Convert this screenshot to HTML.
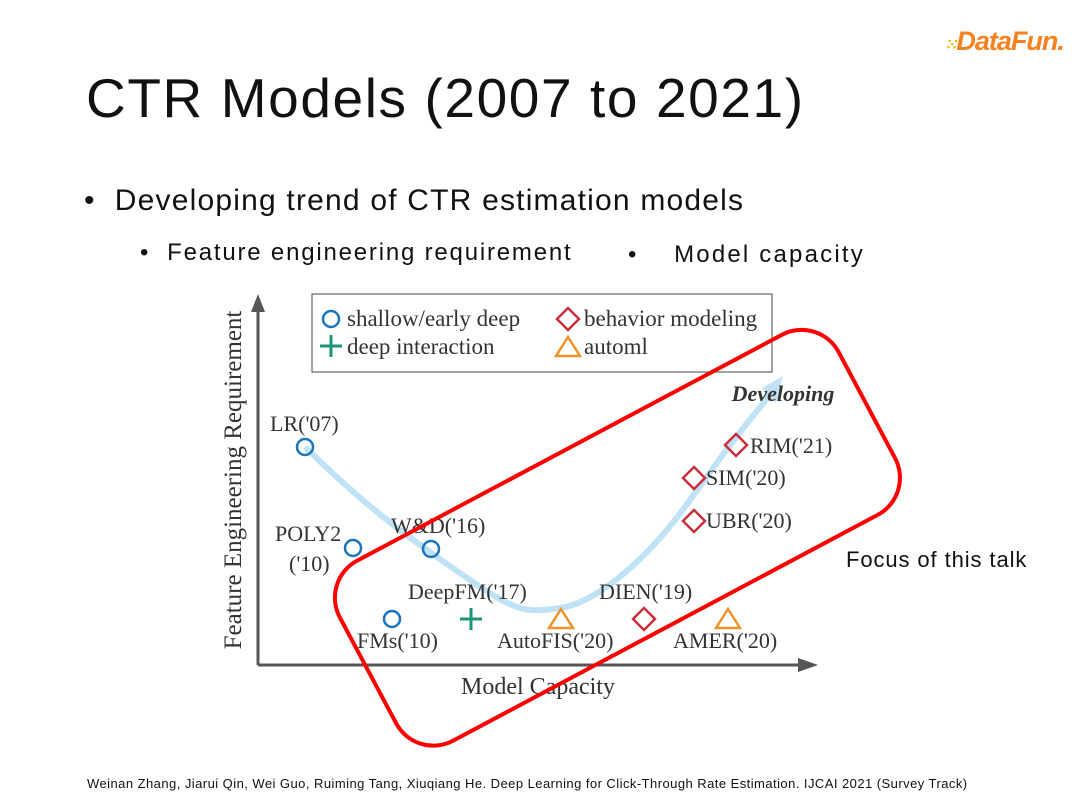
<!DOCTYPE html>
<html><head><meta charset="utf-8"><style>
body{margin:0;width:1080px;height:810px;background:#fff;overflow:hidden;position:relative;font-family:"Liberation Sans",sans-serif;}
.t{position:absolute;white-space:nowrap;color:#111;}
</style></head><body>
<div class="t" style="left:944px;top:26px;font-size:27px;font-style:italic;font-weight:bold;color:#f58220;letter-spacing:-1px"><span style="font-size:16px;color:#f7b500">⁙</span>DataFun.</div>
<div class="t" style="left:86px;top:66px;font-size:55px;letter-spacing:1.6px">CTR Models (2007 to 2021)</div>
<div class="t" style="left:84px;top:184px;font-size:30px;letter-spacing:1.2px">•&nbsp; Developing trend of CTR estimation models</div>
<div class="t" style="left:140px;top:239px;font-size:24px;letter-spacing:1.8px">•&nbsp; Feature engineering requirement</div>
<div class="t" style="left:628px;top:241px;font-size:24px;letter-spacing:2.2px">•&nbsp;&nbsp;&nbsp; Model capacity</div>
<div class="t" style="left:846px;top:547px;font-size:22px;letter-spacing:0.9px">Focus of this talk</div>
<div class="t" style="left:87px;top:776px;font-size:13px;letter-spacing:0.45px">Weinan Zhang, Jiarui Qin, Wei Guo, Ruiming Tang, Xiuqiang He. Deep Learning for Click-Through Rate Estimation. IJCAI 2021 (Survey Track)</div>
<svg id="chart" width="1080" height="810" style="position:absolute;left:0;top:0" font-family="Liberation Serif, serif">
<g>
<line x1="258" y1="665" x2="258" y2="310" stroke="#555" stroke-width="3"/>
<polygon points="251,312 265,312 258,294" fill="#555"/>
<line x1="258" y1="665" x2="800" y2="665" stroke="#555" stroke-width="3"/>
<polygon points="798,658 798,672 818,665" fill="#555"/>
</g>
<text transform="translate(241,480) rotate(-90)" text-anchor="middle" font-size="25" fill="#333">Feature Engineering Requirement</text>
<text x="538" y="694" text-anchor="middle" font-size="24" fill="#333">Model Capacity</text>
<g>
<rect x="312" y="294" width="460" height="78" fill="#fff" stroke="#666" stroke-width="1.2"/>
<circle cx="331" cy="319" r="8" fill="none" stroke="#1a75bc" stroke-width="2.5"/>
<text x="347" y="326" font-size="23" fill="#333">shallow/early deep</text>
<line x1="320" y1="346" x2="342" y2="346" stroke="#1a9678" stroke-width="3"/><line x1="331" y1="335" x2="331" y2="357" stroke="#1a9678" stroke-width="3"/>
<text x="347" y="354" font-size="23" fill="#333">deep interaction</text>
<polygon points="568,308 579,319 568,330 557,319" fill="none" stroke="#c8303c" stroke-width="2.5"/>
<text x="584" y="326" font-size="23" fill="#333">behavior modeling</text>
<polygon points="568,337 580,356 556,356" fill="none" stroke="#f0922a" stroke-width="2.5"/>
<text x="584" y="354" font-size="23" fill="#333">automl</text>
</g>
<path d="M305,447 C380,520 420,545 470,580 S530,612 560,608 S640,570 690,500 S750,420 770,395" fill="none" stroke="#bfe2f6" stroke-width="6"/>
<polygon points="783,376 762,388 776,403" fill="#bfe2f6"/>
<text x="783" y="401" text-anchor="middle" font-size="22" font-style="italic" font-weight="bold" fill="#333">Developing</text>
<g id="marks"></g>
<rect x="335" y="436" width="565" height="204" rx="42" fill="none" stroke="#f00" stroke-width="4" transform="rotate(-28 617 538)"/>
</svg>
<script>
const models=["LR('07)","POLY2","W&D('16)","FMs('10)","DeepFM('17)","AutoFIS('20)","DIEN('19)","AMER('20)","UBR('20)","SIM('20)","RIM('21)"];
const capacity=[47,95,173,134,213,303,386,470,436,436,478];
const requirement=[218,117,116,46,46,46,46,46,144,187,220];
const kinds=["o","o","o","o","+","t","d","t","d","d","d"];
const labelX=[-35,-78,-40,-35,-63,-64,-45,-55,12,12,14];
const labelY=[-16,-7,-16,29,-20,29,-20,29,7,7,8];
const sx=v=>258+v, sy=v=>665-v;
const g=document.getElementById('marks');const ns='http://www.w3.org/2000/svg';
const col={o:'#1a75bc','+':'#1a9678',t:'#f0922a',d:'#c8303c'};
models.forEach((m,i)=>{
 const x=sx(capacity[i]),y=sy(requirement[i]),k=kinds[i];let el;
 if(k==='o'){el=document.createElementNS(ns,'circle');el.setAttribute('cx',x);el.setAttribute('cy',y);el.setAttribute('r',8);}
 else if(k==='+'){el=document.createElementNS(ns,'path');el.setAttribute('d',`M${x-11},${y}H${x+11}M${x},${y-11}V${y+11}`);}
 else if(k==='t'){el=document.createElementNS(ns,'polygon');el.setAttribute('points',`${x},${y-10} ${x+12},${y+9} ${x-12},${y+9}`);}
 else {el=document.createElementNS(ns,'polygon');el.setAttribute('points',`${x},${y-11} ${x+11},${y} ${x},${y+11} ${x-11},${y}`);}
 el.setAttribute('fill','none');el.setAttribute('stroke',col[k]);el.setAttribute('stroke-width',k==='+'?3:2.5);
 
 
 g.appendChild(el);
 const t=document.createElementNS(ns,'text');t.setAttribute('x',x+labelX[i]);t.setAttribute('y',y+labelY[i]);
 t.setAttribute('font-size','22');t.setAttribute('fill','#333');t.textContent=m;
 
 
 g.appendChild(t);
 if(i===1){const t2=document.createElementNS(ns,'text');t2.setAttribute('x',x-64);t2.setAttribute('y',y+23);t2.setAttribute('font-size','22');t2.setAttribute('fill','#333');t2.textContent="('10)";
 
 
 g.appendChild(t2);}
});
</script>
</body></html>
